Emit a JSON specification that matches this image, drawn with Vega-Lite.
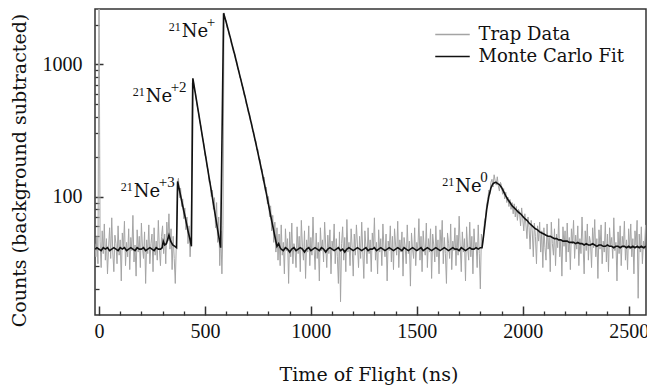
{
  "$schema": "https://vega.github.io/schema/vega-lite/v6.json",
  "autosize": {"type": "none"},
  "width": 551,
  "height": 306,
  "padding": {"left": 95, "top": 9, "right": 1, "bottom": 73},
  "background": "white",
  "datasets": {
    "trap": [
      {"t":-19,"c":44},{"t":-15,"c":35},{"t":-10,"c":50},{"t":-5,"c":31},{"t":0,"c":4000},
      {"t":5,"c":46},{"t":10,"c":29},{"t":15,"c":55},{"t":20,"c":37},{"t":25,"c":62},{"t":30,"c":33},{"t":35,"c":48},{"t":40,"c":26},{"t":45,"c":41},{"t":50,"c":58},
      {"t":55,"c":34},{"t":60,"c":69},{"t":65,"c":38},{"t":70,"c":27},{"t":75,"c":51},{"t":80,"c":44},{"t":85,"c":31},{"t":90,"c":60},{"t":95,"c":36},{"t":100,"c":47},
      {"t":105,"c":23},{"t":110,"c":53},{"t":115,"c":40},{"t":120,"c":65},{"t":125,"c":30},{"t":130,"c":45},{"t":135,"c":35},{"t":140,"c":57},{"t":145,"c":28},{"t":150,"c":49},
      {"t":155,"c":39},{"t":160,"c":72},{"t":165,"c":32},{"t":170,"c":43},{"t":175,"c":25},{"t":180,"c":56},{"t":185,"c":38},{"t":190,"c":50},{"t":195,"c":29},{"t":200,"c":63},
      {"t":205,"c":41},{"t":210,"c":34},{"t":215,"c":54},{"t":220,"c":22},{"t":225,"c":47},{"t":230,"c":37},{"t":235,"c":61},{"t":240,"c":31},{"t":245,"c":44},{"t":250,"c":52},
      {"t":255,"c":27},{"t":260,"c":58},{"t":265,"c":36},{"t":270,"c":46},{"t":275,"c":33},{"t":280,"c":66},{"t":285,"c":40},{"t":290,"c":30},{"t":295,"c":50},
      {"t":300,"c":60},{"t":305,"c":37},{"t":310,"c":52},{"t":315,"c":31},{"t":320,"c":64},{"t":325,"c":46},{"t":330,"c":74},{"t":335,"c":40},{"t":340,"c":57},{"t":345,"c":28},{"t":350,"c":50},{"t":355,"c":34},{"t":360,"c":22},{"t":365,"c":45},
      {"t":370,"c":125},{"t":375,"c":138},{"t":380,"c":98},{"t":385,"c":116},{"t":390,"c":84},{"t":395,"c":96},{"t":400,"c":68},{"t":405,"c":82},{"t":410,"c":56},{"t":415,"c":70},{"t":420,"c":44},{"t":425,"c":60},{"t":430,"c":35},{"t":435,"c":52},
      {"t":440,"c":720},{"t":445,"c":760},{"t":450,"c":640},{"t":455,"c":610},{"t":460,"c":525},{"t":465,"c":470},{"t":470,"c":430},{"t":475,"c":375},{"t":480,"c":345},{"t":485,"c":300},
      {"t":490,"c":270},{"t":495,"c":248},{"t":500,"c":205},{"t":505,"c":200},{"t":510,"c":168},{"t":515,"c":160},{"t":520,"c":128},{"t":525,"c":130},{"t":530,"c":100},{"t":535,"c":112},
      {"t":540,"c":80},{"t":545,"c":98},{"t":550,"c":58},{"t":555,"c":90},{"t":560,"c":45},{"t":565,"c":70},{"t":570,"c":30},{"t":575,"c":55},{"t":580,"c":26},{"t":585,"c":60},
      {"t":590,"c":2450},{"t":595,"c":2200},{"t":600,"c":2150},{"t":605,"c":1880},{"t":610,"c":1850},{"t":615,"c":1640},{"t":620,"c":1620},{"t":625,"c":1420},{"t":630,"c":1400},{"t":635,"c":1230},
      {"t":640,"c":1210},{"t":645,"c":1080},{"t":650,"c":1050},{"t":655,"c":920},{"t":660,"c":900},{"t":665,"c":790},{"t":670,"c":780},{"t":675,"c":690},{"t":680,"c":670},{"t":685,"c":580},
      {"t":690,"c":580},{"t":695,"c":500},{"t":700,"c":495},{"t":705,"c":430},{"t":710,"c":425},{"t":715,"c":370},{"t":720,"c":365},{"t":725,"c":310},{"t":730,"c":310},{"t":735,"c":265},
      {"t":740,"c":265},{"t":745,"c":225},{"t":750,"c":228},{"t":755,"c":190},{"t":760,"c":192},{"t":765,"c":160},{"t":770,"c":162},{"t":775,"c":132},{"t":780,"c":140},{"t":785,"c":110},
      {"t":790,"c":118},{"t":795,"c":88},{"t":800,"c":100},{"t":805,"c":70},{"t":810,"c":85},{"t":815,"c":55},{"t":820,"c":72},{"t":825,"c":45},{"t":830,"c":64},{"t":835,"c":38},{"t":840,"c":58},{"t":845,"c":33},
      {"t":850,"c":52},{"t":855,"c":30},{"t":860,"c":61},{"t":865,"c":36},{"t":870,"c":45},{"t":875,"c":26},{"t":880,"c":57},{"t":885,"c":39},{"t":890,"c":48},{"t":895,"c":22},
      {"t":900,"c":54},{"t":905,"c":35},{"t":910,"c":63},{"t":915,"c":31},{"t":920,"c":44},{"t":925,"c":40},{"t":930,"c":29},{"t":935,"c":59},{"t":940,"c":37},{"t":945,"c":50},
      {"t":950,"c":27},{"t":955,"c":66},{"t":960,"c":42},{"t":965,"c":33},{"t":970,"c":55},{"t":975,"c":24},{"t":980,"c":47},{"t":985,"c":38},{"t":990,"c":60},{"t":995,"c":30},
      {"t":1000,"c":49},{"t":1005,"c":36},{"t":1010,"c":70},{"t":1015,"c":41},{"t":1020,"c":28},{"t":1025,"c":53},{"t":1030,"c":34},{"t":1035,"c":45},{"t":1040,"c":23},{"t":1045,"c":58},
      {"t":1050,"c":39},{"t":1055,"c":47},{"t":1060,"c":32},{"t":1065,"c":64},{"t":1070,"c":43},{"t":1075,"c":29},{"t":1080,"c":51},{"t":1085,"c":37},{"t":1090,"c":56},{"t":1095,"c":26},
      {"t":1100,"c":46},{"t":1105,"c":40},{"t":1110,"c":62},{"t":1115,"c":31},{"t":1120,"c":48},{"t":1125,"c":35},{"t":1130,"c":22},{"t":1135,"c":54},{"t":1140,"c":16},{"t":1145,"c":44},
      {"t":1150,"c":59},{"t":1155,"c":33},{"t":1160,"c":49},{"t":1165,"c":27},{"t":1170,"c":67},{"t":1175,"c":38},{"t":1180,"c":45},{"t":1185,"c":30},{"t":1190,"c":57},{"t":1195,"c":41},
      {"t":1200,"c":25},{"t":1205,"c":52},{"t":1210,"c":36},{"t":1215,"c":61},{"t":1220,"c":43},{"t":1225,"c":29},{"t":1230,"c":50},{"t":1235,"c":34},{"t":1240,"c":64},{"t":1245,"c":39},
      {"t":1250,"c":24},{"t":1255,"c":55},{"t":1260,"c":42},{"t":1265,"c":31},{"t":1270,"c":58},{"t":1275,"c":37},{"t":1280,"c":47},{"t":1285,"c":27},{"t":1290,"c":53},{"t":1295,"c":40},
      {"t":1300,"c":69},{"t":1305,"c":33},{"t":1310,"c":45},{"t":1315,"c":26},{"t":1320,"c":56},{"t":1325,"c":38},{"t":1330,"c":48},{"t":1335,"c":30},{"t":1340,"c":62},{"t":1345,"c":41},
      {"t":1350,"c":35},{"t":1355,"c":52},{"t":1360,"c":23},{"t":1365,"c":46},{"t":1370,"c":39},{"t":1375,"c":60},{"t":1380,"c":32},{"t":1385,"c":50},{"t":1390,"c":28},{"t":1395,"c":57},
      {"t":1400,"c":43},{"t":1405,"c":36},{"t":1410,"c":65},{"t":1415,"c":29},{"t":1420,"c":47},{"t":1425,"c":38},{"t":1430,"c":54},{"t":1435,"c":25},{"t":1440,"c":49},{"t":1445,"c":42},
      {"t":1450,"c":31},{"t":1455,"c":61},{"t":1460,"c":37},{"t":1465,"c":46},{"t":1470,"c":21},{"t":1475,"c":53},{"t":1480,"c":40},{"t":1485,"c":34},{"t":1490,"c":58},{"t":1495,"c":30},
      {"t":1500,"c":45},{"t":1505,"c":39},{"t":1510,"c":68},{"t":1515,"c":33},{"t":1520,"c":50},{"t":1525,"c":27},{"t":1530,"c":55},{"t":1535,"c":41},{"t":1540,"c":36},{"t":1545,"c":63},
      {"t":1550,"c":29},{"t":1555,"c":48},{"t":1560,"c":38},{"t":1565,"c":57},{"t":1570,"c":24},{"t":1575,"c":52},{"t":1580,"c":43},{"t":1585,"c":32},{"t":1590,"c":60},{"t":1595,"c":35},
      {"t":1600,"c":47},{"t":1605,"c":26},{"t":1610,"c":56},{"t":1615,"c":40},{"t":1620,"c":66},{"t":1625,"c":31},{"t":1630,"c":49},{"t":1635,"c":37},{"t":1640,"c":22},{"t":1645,"c":53},
      {"t":1650,"c":44},{"t":1655,"c":34},{"t":1660,"c":62},{"t":1665,"c":28},{"t":1670,"c":46},{"t":1675,"c":39},{"t":1680,"c":58},{"t":1685,"c":30},{"t":1690,"c":51},{"t":1695,"c":36},
      {"t":1700,"c":71},{"t":1705,"c":42},{"t":1710,"c":27},{"t":1715,"c":54},{"t":1720,"c":38},{"t":1725,"c":48},{"t":1730,"c":23},{"t":1735,"c":59},{"t":1740,"c":41},{"t":1745,"c":33},
      {"t":1750,"c":64},{"t":1755,"c":35},{"t":1760,"c":50},{"t":1765,"c":26},{"t":1770,"c":57},{"t":1775,"c":40},{"t":1780,"c":45},{"t":1785,"c":29},{"t":1790,"c":61},{"t":1795,"c":37},
      {"t":1800,"c":20},{"t":1805,"c":52},
      {"t":1810,"c":42},{"t":1815,"c":52},{"t":1820,"c":66},{"t":1825,"c":70},{"t":1830,"c":88},{"t":1835,"c":95},{"t":1840,"c":112},{"t":1845,"c":104},{"t":1850,"c":128},{"t":1855,"c":135},
      {"t":1860,"c":118},{"t":1865,"c":146},{"t":1870,"c":132},{"t":1875,"c":122},{"t":1880,"c":141},{"t":1885,"c":120},{"t":1890,"c":110},{"t":1895,"c":128},{"t":1900,"c":121},{"t":1905,"c":104},
      {"t":1910,"c":115},{"t":1915,"c":96},{"t":1920,"c":108},{"t":1925,"c":90},{"t":1930,"c":99},{"t":1935,"c":84},{"t":1940,"c":95},{"t":1945,"c":80},{"t":1950,"c":90},{"t":1955,"c":74},
      {"t":1960,"c":88},{"t":1965,"c":70},{"t":1970,"c":84},{"t":1975,"c":66},{"t":1980,"c":80},{"t":1985,"c":76},{"t":1990,"c":60},{"t":1995,"c":82},{"t":2000,"c":68},{"t":2005,"c":55},
      {"t":2010,"c":74},{"t":2015,"c":62},{"t":2020,"c":48},{"t":2025,"c":70},{"t":2030,"c":58},{"t":2035,"c":40},{"t":2040,"c":66},{"t":2045,"c":55},{"t":2050,"c":35},{"t":2055,"c":63},
      {"t":2060,"c":50},{"t":2065,"c":31},{"t":2070,"c":60},{"t":2075,"c":46},{"t":2080,"c":64},{"t":2085,"c":38},{"t":2090,"c":55},{"t":2095,"c":29},{"t":2100,"c":58},
      {"t":2105,"c":41},{"t":2110,"c":33},{"t":2115,"c":62},{"t":2120,"c":40},{"t":2125,"c":50},{"t":2130,"c":27},{"t":2135,"c":64},{"t":2140,"c":44},{"t":2145,"c":36},{"t":2150,"c":57},
      {"t":2155,"c":30},{"t":2160,"c":52},{"t":2165,"c":41},{"t":2170,"c":68},{"t":2175,"c":35},{"t":2180,"c":47},{"t":2185,"c":25},{"t":2190,"c":59},{"t":2195,"c":42},{"t":2200,"c":55},
      {"t":2205,"c":32},{"t":2210,"c":63},{"t":2215,"c":38},{"t":2220,"c":49},{"t":2225,"c":28},{"t":2230,"c":57},{"t":2235,"c":44},{"t":2240,"c":66},{"t":2245,"c":34},{"t":2250,"c":51},
      {"t":2255,"c":40},{"t":2260,"c":60},{"t":2265,"c":30},{"t":2270,"c":48},{"t":2275,"c":37},{"t":2280,"c":70},{"t":2285,"c":43},{"t":2290,"c":26},{"t":2295,"c":55},{"t":2300,"c":39},
      {"t":2305,"c":62},{"t":2310,"c":33},{"t":2315,"c":50},{"t":2320,"c":45},{"t":2325,"c":29},{"t":2330,"c":58},{"t":2335,"c":41},{"t":2340,"c":67},{"t":2345,"c":35},{"t":2350,"c":48},
      {"t":2355,"c":24},{"t":2360,"c":56},{"t":2365,"c":40},{"t":2370,"c":61},{"t":2375,"c":31},{"t":2380,"c":46},{"t":2385,"c":38},{"t":2390,"c":64},{"t":2395,"c":32},{"t":2400,"c":52},
      {"t":2405,"c":27},{"t":2410,"c":58},{"t":2415,"c":42},{"t":2420,"c":49},{"t":2425,"c":34},{"t":2430,"c":69},{"t":2435,"c":39},{"t":2440,"c":45},{"t":2445,"c":23},{"t":2450,"c":54},
      {"t":2455,"c":37},{"t":2460,"c":60},{"t":2465,"c":30},{"t":2470,"c":50},{"t":2475,"c":41},{"t":2480,"c":65},{"t":2485,"c":33},{"t":2490,"c":47},{"t":2495,"c":28},{"t":2500,"c":57},
      {"t":2505,"c":40},{"t":2510,"c":62},{"t":2515,"c":35},{"t":2520,"c":48},{"t":2525,"c":26},{"t":2530,"c":55},{"t":2535,"c":43},{"t":2540,"c":66},{"t":2545,"c":17},{"t":2550,"c":52},
      {"t":2555,"c":38},{"t":2560,"c":59},{"t":2565,"c":31},{"t":2570,"c":46},{"t":2575,"c":40},{"t":2580,"c":61}
    ],
    "fit": [
      {"t":-19,"c":40},{"t":-10,"c":41},{"t":0,"c":40},{"t":10,"c":39},{"t":20,"c":41},{"t":30,"c":40},{"t":40,"c":41},{"t":50,"c":39},{"t":60,"c":40},{"t":70,"c":41},
      {"t":80,"c":40},{"t":90,"c":39},{"t":100,"c":41},{"t":110,"c":40},{"t":120,"c":41},{"t":130,"c":39},{"t":140,"c":40},{"t":150,"c":41},{"t":160,"c":40},{"t":170,"c":39},
      {"t":180,"c":41},{"t":190,"c":40},{"t":200,"c":40},{"t":210,"c":41},{"t":220,"c":39},{"t":230,"c":40},{"t":240,"c":41},{"t":250,"c":40},{"t":260,"c":39},{"t":270,"c":41},
      {"t":280,"c":40},{"t":290,"c":40},{"t":298,"c":41},{"t":303,"c":46},{"t":310,"c":43},{"t":318,"c":44},{"t":325,"c":48},{"t":330,"c":51},{"t":338,"c":46},{"t":348,"c":43},
      {"t":358,"c":42},{"t":366,"c":41},{"t":371,"c":130},{"t":380,"c":111},{"t":390,"c":93},{"t":400,"c":78},{"t":410,"c":66},{"t":420,"c":55},{"t":430,"c":47},{"t":436,"c":42},
      {"t":443,"c":783},{"t":450,"c":670},{"t":460,"c":535},{"t":470,"c":427},{"t":480,"c":341},{"t":490,"c":272},{"t":500,"c":217},{"t":510,"c":173},{"t":520,"c":138},{"t":530,"c":111},
      {"t":540,"c":88},{"t":550,"c":70},{"t":560,"c":56},{"t":568,"c":47},{"t":574,"c":41},
      {"t":588,"c":2430},{"t":600,"c":2090},{"t":610,"c":1820},{"t":620,"c":1585},{"t":630,"c":1365},{"t":640,"c":1190},{"t":650,"c":1023},{"t":660,"c":881},{"t":670,"c":759},{"t":680,"c":653},
      {"t":690,"c":562},{"t":700,"c":479},{"t":710,"c":412},{"t":720,"c":351},{"t":730,"c":299},{"t":740,"c":254},{"t":750,"c":214},{"t":760,"c":180},{"t":770,"c":151},{"t":780,"c":126},
      {"t":790,"c":105},{"t":800,"c":87},{"t":810,"c":72},{"t":820,"c":60},{"t":830,"c":50},{"t":840,"c":42},{"t":848,"c":44},{"t":855,"c":41},
      {"t":860,"c":40},{"t":870,"c":39},{"t":880,"c":41},{"t":890,"c":40},{"t":900,"c":38},{"t":910,"c":40},{"t":920,"c":41},{"t":930,"c":39},{"t":940,"c":40},{"t":950,"c":41},
      {"t":960,"c":40},{"t":970,"c":38},{"t":980,"c":40},{"t":990,"c":41},{"t":1000,"c":39},{"t":1010,"c":40},{"t":1020,"c":41},{"t":1030,"c":40},{"t":1040,"c":39},{"t":1050,"c":41},
      {"t":1060,"c":40},{"t":1070,"c":38},{"t":1080,"c":40},{"t":1090,"c":41},{"t":1100,"c":40},{"t":1110,"c":39},{"t":1120,"c":40},{"t":1130,"c":41},{"t":1140,"c":39},{"t":1150,"c":40},
      {"t":1160,"c":38},{"t":1170,"c":40},{"t":1180,"c":41},{"t":1190,"c":40},{"t":1200,"c":39},{"t":1210,"c":40},{"t":1220,"c":41},{"t":1230,"c":40},{"t":1240,"c":39},{"t":1250,"c":40},
      {"t":1260,"c":41},{"t":1270,"c":39},{"t":1280,"c":40},{"t":1290,"c":40},{"t":1300,"c":41},{"t":1310,"c":39},{"t":1320,"c":40},{"t":1330,"c":41},{"t":1340,"c":40},{"t":1350,"c":39},
      {"t":1360,"c":40},{"t":1370,"c":41},{"t":1380,"c":40},{"t":1390,"c":39},{"t":1400,"c":40},{"t":1410,"c":41},{"t":1420,"c":40},{"t":1430,"c":39},{"t":1440,"c":41},{"t":1450,"c":40},
      {"t":1460,"c":39},{"t":1470,"c":40},{"t":1480,"c":41},{"t":1490,"c":40},{"t":1500,"c":39},{"t":1510,"c":40},{"t":1520,"c":41},{"t":1530,"c":39},{"t":1540,"c":40},{"t":1550,"c":41},
      {"t":1560,"c":40},{"t":1570,"c":39},{"t":1580,"c":40},{"t":1590,"c":41},{"t":1600,"c":40},{"t":1610,"c":39},{"t":1620,"c":40},{"t":1630,"c":41},{"t":1640,"c":40},{"t":1650,"c":39},
      {"t":1660,"c":40},{"t":1670,"c":41},{"t":1680,"c":40},{"t":1690,"c":40},{"t":1700,"c":39},{"t":1710,"c":41},{"t":1720,"c":40},{"t":1730,"c":39},{"t":1740,"c":40},{"t":1750,"c":41},
      {"t":1760,"c":40},{"t":1770,"c":40},{"t":1780,"c":41},{"t":1790,"c":40},{"t":1800,"c":41},{"t":1808,"c":41},
      {"t":1815,"c":50},{"t":1822,"c":62},{"t":1830,"c":80},{"t":1840,"c":100},{"t":1850,"c":116},{"t":1858,"c":124},{"t":1866,"c":127},{"t":1874,"c":128},{"t":1882,"c":125},{"t":1890,"c":123},
      {"t":1900,"c":117},{"t":1910,"c":109},{"t":1920,"c":101},{"t":1930,"c":95},{"t":1940,"c":90},{"t":1950,"c":85},{"t":1960,"c":82},{"t":1970,"c":79},{"t":1980,"c":76},{"t":1990,"c":74},
      {"t":2000,"c":71},{"t":2010,"c":68},{"t":2020,"c":66},{"t":2030,"c":63},{"t":2040,"c":61},{"t":2050,"c":59},{"t":2060,"c":57},{"t":2070,"c":56},{"t":2080,"c":54},{"t":2090,"c":53},
      {"t":2100,"c":52},{"t":2110,"c":51},{"t":2120,"c":50},{"t":2130,"c":50},{"t":2140,"c":49},{"t":2150,"c":48},{"t":2160,"c":48},{"t":2170,"c":47},{"t":2180,"c":47},{"t":2190,"c":46},
      {"t":2200,"c":46},{"t":2210,"c":46},{"t":2220,"c":45},{"t":2230,"c":45},{"t":2240,"c":45},{"t":2250,"c":44},{"t":2260,"c":45},{"t":2270,"c":44},{"t":2280,"c":44},{"t":2290,"c":43},
      {"t":2300,"c":44},{"t":2310,"c":43},{"t":2320,"c":43},{"t":2330,"c":44},{"t":2340,"c":43},{"t":2350,"c":42},{"t":2360,"c":43},{"t":2370,"c":43},{"t":2380,"c":42},{"t":2390,"c":42},
      {"t":2400,"c":43},{"t":2410,"c":42},{"t":2420,"c":42},{"t":2430,"c":41},{"t":2440,"c":42},{"t":2450,"c":42},{"t":2460,"c":41},{"t":2470,"c":42},{"t":2480,"c":42},{"t":2490,"c":41},
      {"t":2500,"c":42},{"t":2510,"c":41},{"t":2520,"c":42},{"t":2530,"c":41},{"t":2540,"c":42},{"t":2550,"c":41},{"t":2560,"c":42},{"t":2570,"c":41},{"t":2582,"c":42}
    ],
    "labels": [
      {"t":390,"c":1617,"pre":"21","main":"Ne","sup":"+"},
      {"t":220,"c":522,"pre":"21","main":"Ne","sup":"+2"},
      {"t":164,"c":100,"pre":"21","main":"Ne","sup":"+3"},
      {"t":1682,"c":109,"pre":"21","main":"Ne","sup":"0"}
    ]
  },
  "resolve": {"axis": {"x": "independent", "y": "independent"}},
  "layer": [
    {
      "data": {"name": "trap"},
      "mark": {"type": "line", "strokeWidth": 1, "clip": true},
      "encoding": {
        "x": {"field": "t", "type": "quantitative",
          "scale": {"domain": [-19, 2582], "nice": false, "zero": false},
          "axis": {"orient": "bottom", "values": [0, 500, 1000, 1500, 2000, 2500], "format": "d", "tickSize": -9, "tickWidth": 1.5, "labelPadding": 15.5, "labelFlush": false, "labelBaseline": "top",
            "title": "Time of Flight (ns)", "titleX": 273.5, "titleY": 65.5, "titleBaseline": "alphabetic"}},
        "y": {"field": "c", "type": "quantitative",
          "scale": {"type": "log", "domain": [12.7, 2620], "nice": false},
          "axis": {"orient": "left", "values": [100, 1000], "format": "d", "tickSize": -8, "tickWidth": 1.5, "labelPadding": 21,
            "title": "Counts (background subtracted)", "titleX": -70, "titleY": 161, "titleBaseline": "alphabetic", "titleAngle": -90}},
        "color": {"datum": "Trap Data", "type": "nominal",
          "scale": {"domain": ["Trap Data", "Monte Carlo Fit"], "range": ["#a4a4a4", "#111111"]},
          "legend": {"orient": "none", "legendX": 345, "legendY": 13, "title": null, "symbolType": "M-1.5,0H1.5", "symbolSize": 529, "symbolStrokeWidth": 1.5,
            "labelFont": "DejaVu Serif", "labelFontSize": 18, "labelColor": "#111", "labelOffset": 13.5, "rowPadding": 0, "padding": 0}}
      }
    },
    {
      "data": {"name": "fit"},
      "mark": {"type": "line", "strokeWidth": 1.6, "clip": true},
      "encoding": {
        "x": {"field": "t", "type": "quantitative", "axis": null},
        "y": {"field": "c", "type": "quantitative", "axis": null},
        "color": {"datum": "Monte Carlo Fit", "type": "nominal"}
      }
    },
    {
      "data": {"name": "labels"},
      "mark": {"type": "text", "align": "right", "baseline": "alphabetic", "dx": -1, "dy": -6, "font": "Liberation Serif", "fontSize": 12, "color": "#111"},
      "encoding": {
        "x": {"field": "t", "type": "quantitative",
          "axis": {"orient": "bottom", "values": [100, 200, 300, 400, 600, 700, 800, 900, 1100, 1200, 1300, 1400, 1600, 1700, 1800, 1900, 2100, 2200, 2300, 2400],
            "tickSize": -4, "tickWidth": 1.3, "labels": false, "title": null}},
        "y": {"field": "c", "type": "quantitative",
          "axis": {"orient": "left", "values": [20, 30, 40, 50, 60, 70, 80, 90, 200, 300, 400, 500, 600, 700, 800, 900, 2000],
            "tickSize": -4, "tickWidth": 1.3, "labels": false, "title": null}},
        "text": {"field": "pre"}
      }
    },
    {
      "data": {"name": "labels"},
      "mark": {"type": "text", "align": "left", "baseline": "alphabetic", "font": "DejaVu Serif", "fontSize": 18, "color": "#111"},
      "encoding": {
        "x": {"field": "t", "type": "quantitative", "axis": null},
        "y": {"field": "c", "type": "quantitative", "axis": null},
        "text": {"field": "main"}
      }
    },
    {
      "data": {"name": "labels"},
      "mark": {"type": "text", "align": "left", "baseline": "alphabetic", "dx": 25, "dy": -10, "font": "Liberation Serif", "fontSize": 15, "color": "#111"},
      "encoding": {
        "x": {"field": "t", "type": "quantitative", "axis": null},
        "y": {"field": "c", "type": "quantitative", "axis": null},
        "text": {"field": "sup"}
      }
    }
  ],
  "config": {
    "view": {"stroke": "#333", "strokeWidth": 1.5},
    "axis": {"domain": false, "grid": false, "tickColor": "#333", "labelFont": "Liberation Serif", "labelFontSize": 20, "labelColor": "#111",
      "titleFont": "DejaVu Serif", "titleFontSize": 19, "titleFontWeight": "normal", "titleColor": "#111"}
  }
}
